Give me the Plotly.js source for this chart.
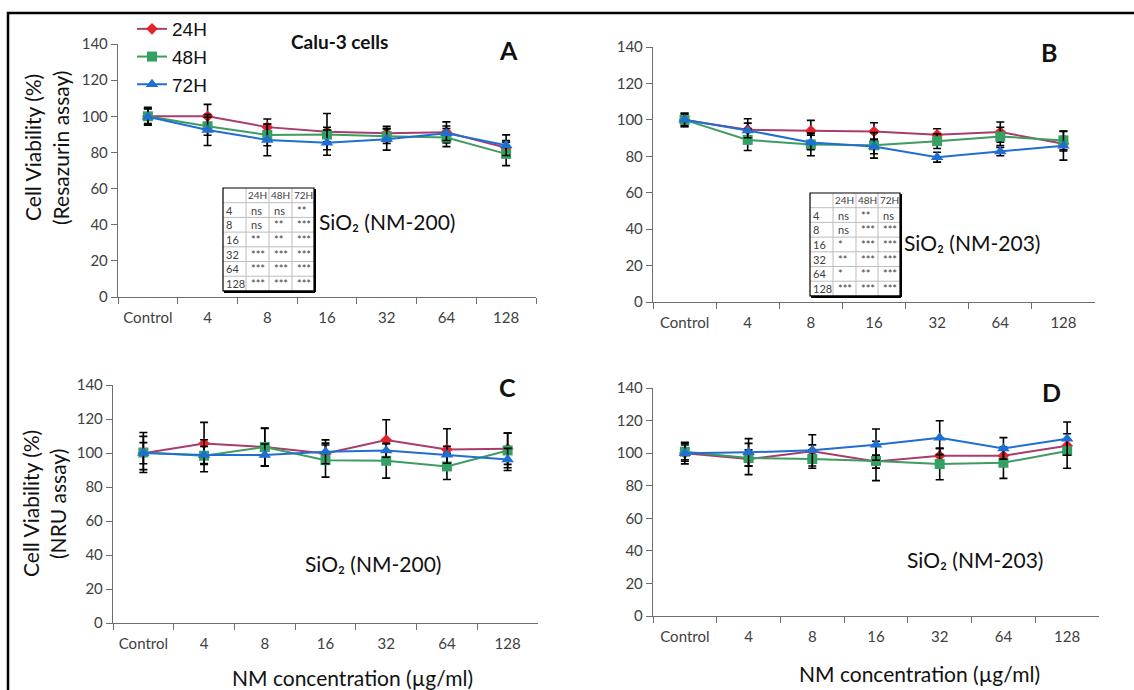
<!DOCTYPE html>
<html>
<head>
<meta charset="utf-8">
<script src="https://cdn.plot.ly/plotly-3.0.1.min.js"></script>
<style>
  html, body { margin: 0; padding: 0; background: #fff; }
  #chart { width: 1134px; height: 690px; }
</style>
</head>
<body>
<div id="chart"></div>
<script>
// Concentration categories (µg/ml)
const categories = ['Control', '4', '8', '16', '32', '64', '128'];
const seriesNames = ['24H', '48H', '72H'];

// A: Resazurin assay, SiO2 NM-200
const a24 = [100, 100, 94, 91.5, 90.6, 91.1, 82.6];
const a48 = [100, 94.5, 89.7, 89.9, 89, 88.2, 79.2];
const a72 = [99.8, 92.4, 86.9, 85.4, 87.3, 90.6, 84];
const a24Err = [5, 6.6, 4.5, 10, 3.9, 5.8, 4];
const a48Err = [4, 5, 6, 4, 4, 5, 6.5];
const a72Err = [4.5, 8.6, 8.7, 7, 6, 4, 5.7];

// B: Resazurin assay, SiO2 NM-203
const b24 = [99.9, 94.6, 94, 93.6, 91.8, 93.3, 86.9];
const b48 = [100, 89, 86.5, 86, 88.3, 90.9, 88.7];
const b72 = [100, 94.2, 87.6, 85.4, 79.5, 82.6, 85.8];
const b24Err = [3.7, 6, 5.7, 4.8, 3.3, 5.5, 4];
const b48Err = [3, 5.8, 6.2, 7, 4, 5, 5.1];
const b72Err = [3.6, 4, 4, 4, 2.7, 2.3, 7.9];

// C: NRU assay, SiO2 NM-200
const c24 = [99.9, 105.6, 103.5, 99.7, 107.6, 102.1, 102.5];
const c48 = [100.3, 98.4, 103.5, 95.8, 95.4, 92.1, 101.5];
const c72 = [100, 98.8, 98.8, 100.7, 101.5, 99, 96.2];
const c24Err = [6.2, 12.4, 11, 5, 12, 12.2, 9.2];
const c48Err = [11.8, 9.4, 11.2, 10, 10.2, 7.7, 10.2];
const c72Err = [9.8, 5, 6.5, 7, 4, 5, 6.5];

// D: NRU assay, SiO2 NM-203
const d24 = [100, 96.4, 101.1, 94.8, 98.4, 98.4, 104.6];
const d48 = [100.9, 97, 96.4, 95.2, 93.3, 94.1, 101.3];
const d72 = [100, 100.5, 101.7, 105.2, 109.5, 102.9, 108.9];
const d24Err = [6.6, 9.6, 4, 4, 4.5, 4, 4];
const d48Err = [5, 5, 5.7, 12.1, 9.6, 9.6, 10.6];
const d72Err = [5, 8.4, 9.6, 9.6, 10.4, 6.6, 10.2];

// Significance tables (rows = concentrations, columns = 24H/48H/72H)
const sigRows = ['4', '8', '16', '32', '64', '128'];
const sigA = [
  ['ns', 'ns', '**'],
  ['ns', '**', '***'],
  ['**', '**', '***'],
  ['***', '***', '***'],
  ['***', '***', '***'],
  ['***', '***', '***']
];
const sigB = [
  ['ns', '**', 'ns'],
  ['ns', '***', '***'],
  ['*', '***', '***'],
  ['**', '***', '***'],
  ['*', '**', '***'],
  ['***', '***', '***']
];

const W = 1134, H = 690;
const px = x => x / W;
const py = y => 1 - y / H;

const lineColors = ['#A83C6C', '#3E9C62', '#1F6FD3'];
const markerColors = ['#E3222C', '#35A063', '#1F6FD3'];
const markerSymbols = ['diamond', 'square', 'triangle-up'];
const markerSizes = [9, 10, 11];

const panels = [
  { xa: 'x',  ya: 'y',  vals: [a24, a48, a72], errs: [a24Err, a48Err, a72Err], legend: true },
  { xa: 'x2', ya: 'y2', vals: [b24, b48, b72], errs: [b24Err, b48Err, b72Err], legend: false },
  { xa: 'x3', ya: 'y3', vals: [c24, c48, c72], errs: [c24Err, c48Err, c72Err], legend: false },
  { xa: 'x4', ya: 'y4', vals: [d24, d48, d72], errs: [d24Err, d48Err, d72Err], legend: false }
];

const traces = [];
panels.forEach(p => {
  p.vals.forEach((v, i) => {
    traces.push({
      type: 'scatter', mode: 'lines+markers',
      x: categories, y: v, name: seriesNames[i],
      xaxis: p.xa, yaxis: p.ya,
      showlegend: p.legend,
      line: { color: lineColors[i], width: 2 },
      marker: { symbol: markerSymbols[i], size: markerSizes[i], color: markerColors[i] },
      error_y: { type: 'data', array: p.errs[i], visible: true, color: '#000', thickness: 1.6, width: 4 },
      hoverinfo: 'skip'
    });
  });
});

const tickFont = { family: 'Lato, "Open Sans", sans-serif', size: 15, color: '#404040' };
function xAxis(x0, x1, anchor) {
  return {
    domain: [px(x0), px(x1)], anchor: anchor,
    type: 'category', categoryorder: 'array', categoryarray: categories,
    range: [-0.5, 6.5], tickson: 'boundaries',
    ticks: 'outside', ticklen: 6, tickcolor: '#6e6e6e', tickwidth: 1,
    ticklabelstandoff: 7,
    showline: true, linecolor: '#6e6e6e', linewidth: 1.2,
    showgrid: false, zeroline: false, tickfont: tickFont, fixedrange: true
  };
}
function yAxis(y0, y1, anchor) {
  return {
    domain: [py(y1), py(y0)], anchor: anchor,
    range: [0, 140], dtick: 20, tick0: 0,
    ticks: 'outside', ticklen: 6, tickcolor: '#6e6e6e', tickwidth: 1,
    showline: true, linecolor: '#6e6e6e', linewidth: 1.2,
    showgrid: false, zeroline: false, tickfont: tickFont, fixedrange: true
  };
}

const annotations = [];
const shapes = [];
function text(x, y, t, size, opts) {
  annotations.push(Object.assign({
    xref: 'paper', yref: 'paper', x: px(x), y: py(y), text: t, showarrow: false,
    xanchor: 'center', yanchor: 'middle',
    font: { family: 'Lato, "Open Sans", sans-serif', size: size, color: '#111' }
  }, opts || {}));
}

// Panel letters, titles, labels
text(339, 42, '<b>Calu-3 cells</b>', 19);
text(508, 50, '<b>A</b>', 25);
text(1049, 52, '<b>B</b>', 25);
text(507, 387, '<b>C</b>', 25);
text(1051, 392, '<b>D</b>', 25);
text(387, 222, 'SiO₂ (NM-200)', 21);
text(972, 242, 'SiO₂ (NM-203)', 21);
text(373, 563, 'SiO₂ (NM-200)', 21);
text(975, 559, 'SiO₂ (NM-203)', 21);

// Axis titles
text(32, 148, 'Cell Viability (%)', 21, { textangle: -90 });
text(60, 148, '(Resazurin assay)', 21, { textangle: -90 });
text(30, 504, 'Cell Viability (%)', 21, { textangle: -90 });
text(57, 504, '(NRU assay)', 21, { textangle: -90 });
text(352, 677, 'NM concentration (µg/ml)', 21);
text(919, 673, 'NM concentration (µg/ml)', 21);

// Significance tables
function sigTable(x0, y0, colEdges, rowH, rows) {
  const x1 = colEdges[colEdges.length - 1];
  const nRows = rows.length + 1;
  const y1 = y0 + rowH * nRows;
  // inner grid
  for (let c = 1; c < colEdges.length - 1; c++) {
    shapes.push({ type: 'line', xref: 'paper', yref: 'paper',
      x0: px(colEdges[c]), x1: px(colEdges[c]), y0: py(y0), y1: py(y1),
      line: { color: '#bdbdbd', width: 1 } });
  }
  for (let r = 1; r < nRows; r++) {
    shapes.push({ type: 'line', xref: 'paper', yref: 'paper',
      x0: px(x0), x1: px(x1), y0: py(y0 + r * rowH), y1: py(y0 + r * rowH),
      line: { color: '#bdbdbd', width: 1 } });
  }
  // outer frame with heavier right/bottom edge
  shapes.push({ type: 'rect', xref: 'paper', yref: 'paper',
    x0: px(x0), x1: px(x1), y0: py(y1), y1: py(y0),
    line: { color: '#000', width: 1.2 }, fillcolor: 'rgba(0,0,0,0)' });
  shapes.push({ type: 'line', xref: 'paper', yref: 'paper',
    x0: px(x1 + 1), x1: px(x1 + 1), y0: py(y0 + 1), y1: py(y1 + 1),
    line: { color: '#000', width: 2 } });
  shapes.push({ type: 'line', xref: 'paper', yref: 'paper',
    x0: px(x0 + 1), x1: px(x1 + 1), y0: py(y1 + 1), y1: py(y1 + 1),
    line: { color: '#000', width: 2 } });
  const f = { family: 'Lato, "Open Sans", sans-serif', size: 11, color: '#404040' };
  const fh = { family: 'Lato, "Open Sans", sans-serif', size: 10, color: '#404040' };
  seriesNames.forEach((s, c) => {
    text((colEdges[c + 1] + colEdges[c + 2]) / 2, y0 + rowH / 2, s, 10, { font: fh });
  });
  rows.forEach((row, r) => {
    const yc = y0 + rowH * (r + 1.5);
    text(colEdges[0] + 1, yc, sigRows[r], 11, { xanchor: 'left', font: f });
    row.forEach((v, c) => {
      text(colEdges[c + 1] + 3, yc, v, 11, { xanchor: 'left', font: f });
    });
  });
}
sigTable(223, 188, [223, 246, 269, 292, 314], 14.7, sigA);
sigTable(810, 193, [810, 833, 856, 878, 900], 14.7, sigB);

// Figure frame (left and top)
shapes.push({ type: 'path', xref: 'paper', yref: 'paper',
  path: `M ${px(8)} ${py(692)} L ${px(8)} ${py(13)} L ${px(1136)} ${py(13)}`,
  line: { color: '#000', width: 2.5 } });

const layout = {
  width: W, height: H,
  margin: { l: 0, r: 0, t: 0, b: 0 },
  paper_bgcolor: '#fff', plot_bgcolor: '#fff',
  showlegend: true,
  legend: {
    x: px(132), y: py(10), xanchor: 'left', yanchor: 'top',
    bgcolor: 'rgba(0,0,0,0)', borderwidth: 0,
    font: { family: '"Liberation Sans", Arial, sans-serif', size: 19, color: '#111' },
    itemwidth: 30, tracegroupgap: 0
  },
  xaxis: xAxis(118, 536, 'y'),
  yaxis: yAxis(44, 297, 'x'),
  xaxis2: xAxis(653, 1095, 'y2'),
  yaxis2: yAxis(47, 302, 'x2'),
  xaxis3: xAxis(113, 538, 'y3'),
  yaxis3: yAxis(385, 623, 'x3'),
  xaxis4: xAxis(653, 1099, 'y4'),
  yaxis4: yAxis(388, 616, 'x4'),
  annotations: annotations,
  shapes: shapes
};

Plotly.newPlot('chart', traces, layout, { staticPlot: true, displayModeBar: false });
</script>
</body>
</html>
